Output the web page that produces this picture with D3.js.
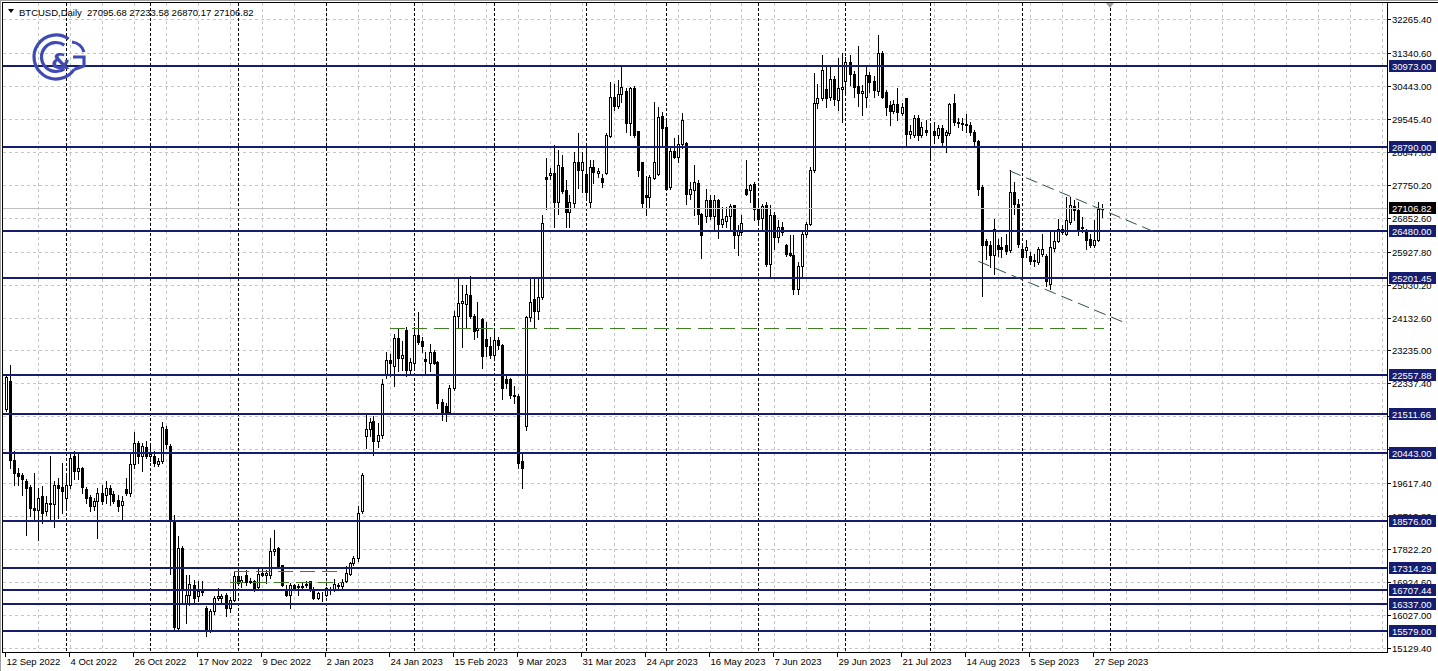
<!DOCTYPE html>
<html><head><meta charset="utf-8">
<script src="https://cdn.jsdelivr.net/npm/d3@7"></script>
<style>html,body{margin:0;padding:0;background:#fff}svg{display:block}</style>
</head><body>
<svg id="chart" width="1438" height="671"></svg>
<script>
// ---- data (weekday daily bars, index 0 = 12 Sep 2022) ----
const openP=[
21643,22402,20250,19903,19839,19675,19510,18942,18897,19263,
18869,19052,19052,19565,19510,19217,19583,20361,19949,20041,
19473,19235,18988,19125,19354,19308,19491,19327,19171,19015,
19473,19354,20151,20727,20361,20608,20361,20361,20132,20224,
21093,20636,18620,15670,17852,16352,16580,16852,16534,16716,
16215,15625,16124,16488,16500,16579,16215,16443,17079,16916,
17107,16925,16943,16779,17170,17107,17125,17761,17852,17379,
16716,16579,16852,16790,16800,16840,16943,16716,16488,16610,
16579,16700,16716,16850,16830,16961,17143,17443,17579,18852,
20899,21109,21310,20763,20927,22587,22970,22815,23572,23043,
23791,22696,22906,23663,23500,23000,22906,23207,22924,21840,
21720,21556,22222,24183,24530,24503,24758,24183,23800,24092,
23545,23362,23116,23517,23390,22468,22450,22021,21994,20234,
21173,24138,24640,24320,24685,27969,28015,28060,27285,28224,
27604,27011,27257,28361,28151,28042,27285,28224,28073,27946,
28082,29085,30134,29906,30216,30307,29423,30380,29213,28356,
27480,27417,27937,28055,29623,29332,27690,28666,28511,28848,
28876,27500,27600,27800,26961,26897,27325,26897,27325,26687,
26760,26897,27189,26387,26460,27645,27600,27782,27080,26842,
27207,25593,26915,26323,26596,26095,25900,25840,24909,25548,
26414,26687,28146,29970,30125,30362,30153,30636,30061,30362,
30563,31092,30764,30453,30244,30153,30745,30563,30317,31338,
30270,29925,29760,29943,29697,30125,29122,29104,29560,29104,
29241,29195,29222,29104,29286,29104,29149,29970,29469,29423,
29405,29377,29195,28940,27691,26230,26095,25840,26095,26049,
26095,25977,27554,27235,26004,25977,25822,25700,25640,25867,
25822,25046,26040,26214,26551,26414,26733,27170,27052,26560,
26505,26277,26120,26232,27095.68];
const highP=[
22604,22833,20498,20041,19903,19720,19583,19903,19491,19537,
19263,20361,19675,19766,20178,19858,20453,20498,20453,20060,
19510,19308,19217,19491,19583,19675,19583,19400,19308,19263,
19766,20453,21020,20773,20727,20773,20727,20498,20315,21277,
21185,20700,18750,18170,17898,17125,17125,16988,16943,16943,
16261,16200,16550,16761,16600,16620,16530,17216,17300,17100,
17261,17050,16990,17307,17300,17250,18125,18352,17870,17398,
16852,16897,16880,16870,16900,16950,16950,16780,16660,16650,
16800,16780,17000,16900,17000,17350,17480,17640,19000,19898,
21492,21400,21447,21250,22450,23180,23137,23681,23818,23500,
23864,23043,23864,24275,23591,23180,23408,23250,22950,21900,
21800,22295,24320,25232,25032,25032,25251,24229,24548,24119,
23999,23590,23818,23590,23408,22541,22496,22268,22040,20443,
24183,25187,25187,25232,26920,28471,28200,28836,28699,28562,
27878,27467,28635,29155,28653,28744,28425,28425,28200,28055,
29150,30544,30490,30608,31018,30380,30426,30450,29213,28374,
28000,28010,30016,29879,29742,29560,28740,29012,29104,29696,
28903,27827,28283,27873,26988,27645,27463,27463,27372,27144,
27144,27235,27208,26642,26915,28420,27782,27827,27372,27235,
27280,27189,27007,26779,26733,26140,26368,26368,25640,26460,
26733,28237,30790,30490,31292,30973,30973,30700,31201,31338,
31220,31292,30836,31520,30472,31001,30818,30700,31839,31384,
30335,30035,30061,30380,29970,30125,29377,29651,29651,29469,
29514,29377,29469,29377,29377,29241,29970,30216,29560,29560,
29670,29469,29241,28967,27736,26277,26230,26825,26277,26323,
26414,28146,27827,27371,26095,26232,25913,25867,26049,26414,
25867,26460,26505,26824,26642,27417,27417,27326,27280,26870,
26551,26414,26779,27280,27233.58];
const lowP=[
21597,20041,19583,19583,19308,18210,18713,18576,18073,18530,
18759,18576,18439,18668,18805,18960,19491,19720,19720,19354,
19080,18851,18897,18118,19052,19080,19034,19080,18851,18594,
19308,19263,20041,20178,19949,20315,20224,20087,20087,20178,
20590,17150,15579,15579,16352,15806,16306,16352,16400,16579,
15443,15560,16050,16440,16350,16000,16110,16420,16850,16800,
16850,16900,16680,16760,17080,16900,17040,17670,17307,16806,
16534,16215,16700,16570,16770,16780,16670,16460,16460,16400,
16540,16600,16690,16770,16740,16930,17120,17400,17500,18800,
20580,20900,20398,20600,20850,22496,22541,22268,22680,22700,
22541,22600,22724,23408,23180,22600,22680,22860,21676,21351,
21320,21492,22160,23864,23320,23864,24119,23545,23590,22769,
23089,23043,23043,23271,21903,22222,21948,21812,20033,19485,
21082,24046,23864,24092,24640,27102,27900,26601,26966,27513,
26601,26601,27130,27650,27558,27376,27148,27787,27950,27690,
28055,29050,29788,29830,30015,29195,29104,29050,27991,27143,
26915,27143,27918,28028,28830,27600,27645,28465,28374,28740,
27234,27372,26915,26687,25748,26733,26824,26505,26295,26596,
26596,26505,26022,25840,26368,27462,27280,26778,26642,26505,
25548,25274,26003,26186,26368,25822,25822,24773,24773,25274,
26323,26642,28100,29833,30050,29879,30061,29925,29788,29469,
30290,30472,30153,29907,29651,29879,30290,30153,30198,30107,
29651,29377,29697,29514,29651,28830,29013,29058,28967,29058,
29104,28511,28876,29013,28830,28648,29104,29377,29330,29250,
29195,29104,28785,27463,24728,25730,25502,25320,25822,25776,
25867,25913,26961,26049,25229,25776,25594,25548,25594,25822,
25001,24910,25958,26186,26400,26368,26687,26779,26368,26460,
26004,26049,26049,26214,26870.17];
const closeP=[
22512,20250,19903,19812,19720,19491,18942,18897,19217,18805,
19080,19080,19565,19491,19400,19583,20315,19949,20022,19510,
19217,18988,19144,19354,19125,19491,19327,19144,18988,19144,
19354,20151,20727,20361,20636,20361,20425,20178,20224,21139,
20682,18620,15715,17852,16761,16580,16879,16488,16670,16643,
15625,16124,16488,16534,16552,16215,16443,17079,16897,16988,
16925,16961,16716,17143,17125,17170,17761,17825,17352,16852,
16579,16852,16761,16830,16825,16860,16761,16488,16625,16590,
16761,16716,16879,16830,16925,17170,17443,17579,18807,19852,
21109,21283,20763,20927,22313,22970,22888,23572,23043,23100,
22696,22924,23663,23454,23362,22950,23180,22906,21812,21511,
21556,22222,24183,24521,24594,24776,24165,23773,23846,23089,
23344,23116,23517,23390,22204,22359,22021,21994,20170,20033,
24138,24548,24320,24685,26710,27896,28060,27285,28288,27586,
27011,27285,28361,28151,28361,27558,28224,28106,28118,27827,
29104,30134,29906,30216,30408,29423,30380,29104,28146,27262,
27417,27964,28374,29605,29304,27645,28666,28511,28848,29514,
27508,27645,27827,26961,26387,27325,26897,27325,26687,26824,
26897,27170,26368,26478,26714,27508,27736,27080,26824,27170,
25593,26915,26323,26596,26460,25867,25840,24909,25548,26395,
26687,28146,29970,30125,30882,30125,30636,30089,30380,30426,
31092,30764,30426,30244,30310,30745,30545,30335,31338,30153,
29879,29760,29943,29724,29879,29122,29213,29560,29104,29313,
29177,29180,29104,29286,28922,29195,29943,29469,29423,29400,
29377,29195,28940,27645,26095,26095,25840,26551,26010,26004,
25958,27554,27217,26140,25776,26067,25685,25680,26004,26004,
25138,26049,26214,26551,26470,26779,27189,27052,26551,26600,
26250,26095,26232,27098,27106.82];

const priceTicks=[32265.40,31340.60,30443.00,29545.40,28647.80,27750.20,26852.60,25927.80,25030.20,24132.60,
  23235.00,22337.40,21439.80,20542.20,19617.40,18719.80,17822.20,16924.60,16027.00,15129.40];
const levelLines=[30973.00,28790.00,26480.00,25201.45,22557.88,21511.66,20443.00,18576.00,17314.29,16707.44,16337.00,15579.00];
const dateTickBars=[0,16,32,48,64,80,96,112,128,144,160,176,192,208,224,240,256,272];
const dateTickLabels=["12 Sep 2022","4 Oct 2022","26 Oct 2022","17 Nov 2022","9 Dec 2022","2 Jan 2023","24 Jan 2023",
  "15 Feb 2023","9 Mar 2023","31 Mar 2023","24 Apr 2023","16 May 2023","7 Jun 2023","29 Jun 2023","21 Jul 2023",
  "14 Aug 2023","5 Sep 2023","27 Sep 2023"];
const monthSeparatorBars=[15,36,58,80,102,122,145,165,188,210,231,254,276];
const lastPrice=27106.82;
const headerText="BTCUSD,Daily  27095.68 27233.58 26870.17 27106.82";
// drawn objects: [bar1, price1, bar2, price2]
const greenLines=[[57,17234,84,17234],[56,16925,84,16925],[96,23845,274.5,23845]];
const channelLines=[[251,28130,287.9,26436],[243.2,25666,279.9,23988]];

// ---- layout ----
const svg=d3.select("#chart");
const plotL=3,plotR=1387,plotT=3,plotB=652;
const x=d3.scaleLinear().domain([0,300]).range([5.5,1205.5]);
const y=d3.scaleLinear().domain([15129.4,32265.4]).range([648,19]);
const FONT="'Liberation Sans', Arial, sans-serif";
const NAVY="#161c6e";

svg.append("rect").attr("width",1438).attr("height",671).attr("fill","#fff");

const clip=svg.append("defs").append("clipPath").attr("id","plot");
clip.append("rect").attr("x",plotL).attr("y",plotT).attr("width",plotR-plotL).attr("height",plotB-plotT);
const plot=svg.append("g").attr("clip-path","url(#plot)").attr("shape-rendering","crispEdges");

// grid
const py=p=>Math.round(y(p))+0.5;
plot.selectAll(".hg").data(priceTicks).join("line")
  .attr("x1",plotL).attr("x2",plotR).attr("y1",py).attr("y2",py)
  .attr("stroke","#c6c6c6").attr("stroke-dasharray","3,3");
const gridBars=d3.range(8,346,8);
plot.selectAll(".vg").data(gridBars).join("line")
  .attr("x1",d=>Math.round(x(d))+0.5).attr("x2",d=>Math.round(x(d))+0.5)
  .attr("y1",plotT).attr("y2",plotB)
  .attr("stroke","#c6c6c6").attr("stroke-dasharray","3,3");
// month separators
plot.selectAll(".ms").data(monthSeparatorBars).join("line")
  .attr("x1",d=>Math.round(x(d))+0.5).attr("x2",d=>Math.round(x(d))+0.5)
  .attr("y1",plotT).attr("y2",plotB)
  .attr("stroke","#000").attr("stroke-dasharray","3,2");

// logo
const LOGO="#3e4bb3";
const logo=svg.append("g").attr("fill","none").attr("stroke",LOGO).attr("stroke-width",3.2);
(function(){
  const cx=56,cy=57;
  function arc(r,a0,a1){const p0=[cx+r*Math.cos(a0*Math.PI/180),cy+r*Math.sin(a0*Math.PI/180)];
    const p1=[cx+r*Math.cos(a1*Math.PI/180),cy+r*Math.sin(a1*Math.PI/180)];
    return `M${p0[0]},${p0[1]} A${r},${r} 0 1 0 ${p1[0]},${p1[1]}`;}
  logo.append("path").attr("d",arc(22,-55,35));
  logo.append("path").attr("d",arc(14.5,-55,55));
  logo.append("path").attr("d","M"+(cx+22*Math.cos(35*Math.PI/180))+","+(cy+22*Math.sin(35*Math.PI/180))
    +" L84,66 L84,57 L73,57");
  logo.append("path").attr("d","M72,42 A14,14 0 0 1 84,52");
  svg.append("text").attr("x",51).attr("y",69).attr("font-family","'DejaVu Sans',sans-serif")
    .attr("font-weight","bold").attr("font-size",22).attr("fill",LOGO).text("&");
})();

// candles
const bars=d3.range(openP.length);
const cg=plot.append("g");
cg.selectAll(".wick").data(bars).join("line")
  .attr("x1",i=>Math.round(x(i))+0.5).attr("x2",i=>Math.round(x(i))+0.5)
  .attr("y1",i=>Math.round(y(highP[i]))).attr("y2",i=>Math.round(y(lowP[i]))+1)
  .attr("stroke","#000");
cg.selectAll(".body").data(bars).join("rect")
  .attr("x",i=>Math.round(x(i))-0.5)
  .attr("y",i=>Math.round(y(Math.max(openP[i],closeP[i])))+0.5)
  .attr("width",2)
  .attr("height",i=>Math.max(0,Math.round(y(Math.min(openP[i],closeP[i])))-Math.round(y(Math.max(openP[i],closeP[i])))))
  .attr("fill",i=>closeP[i]>=openP[i]?"#fff":"#000").attr("stroke","#000");

// current price line
plot.append("line").attr("x1",plotL).attr("x2",plotR).attr("y1",py(lastPrice)).attr("y2",py(lastPrice))
  .attr("stroke","#c0c0c0");

// horizontal level lines
plot.selectAll(".lvl").data(levelLines).join("line")
  .attr("x1",plotL).attr("x2",plotR).attr("y1",d=>Math.round(y(d))).attr("y2",d=>Math.round(y(d)))
  .attr("stroke",NAVY).attr("stroke-width",2);

// green dashed lines
plot.selectAll(".gl").data(greenLines).join("line")
  .attr("x1",d=>x(d[0])).attr("x2",d=>x(d[2])).attr("y1",d=>py(d[1])).attr("y2",d=>py(d[3]))
  .attr("stroke","#3f7f25").attr("stroke-dasharray","15,7");
// channel
plot.selectAll(".ch").data(channelLines).join("line")
  .attr("x1",d=>x(d[0])).attr("x2",d=>x(d[2])).attr("y1",d=>y(d[1])).attr("y2",d=>y(d[3]))
  .attr("stroke","#2f4f4f").attr("stroke-dasharray","12,6").attr("shape-rendering","auto");

// frame
const fr=svg.append("g").attr("shape-rendering","crispEdges");
fr.append("line").attr("x1",0.5).attr("x2",0.5).attr("y1",0).attr("y2",671).attr("stroke","#a0a0a0");
fr.append("line").attr("x1",2.5).attr("x2",2.5).attr("y1",2).attr("y2",plotB+0.5).attr("stroke","#000");
fr.append("line").attr("x1",0).attr("x2",1438).attr("y1",0.5).attr("y2",0.5).attr("stroke","#a0a0a0");
fr.append("line").attr("x1",2).attr("x2",1438).attr("y1",2.5).attr("y2",2.5).attr("stroke","#000");
fr.append("line").attr("x1",plotR+0.5).attr("x2",plotR+0.5).attr("y1",2).attr("y2",plotB+0.5).attr("stroke","#000");
fr.append("line").attr("x1",2).attr("x2",plotR+1).attr("y1",plotB+0.5).attr("y2",plotB+0.5).attr("stroke","#000");

// shift marker
svg.append("path").attr("d","M1106,3 L1114,3 L1110,8 Z").attr("fill","#a0a0a0");

// header
svg.append("path").attr("d","M8,9 L14,9 L11,13 Z").attr("fill","#000");
svg.append("text").attr("x",19).attr("y",16).attr("font-family",FONT).attr("font-size",9.5)
  .attr("fill","#000").attr("xml:space","preserve").style("white-space","pre").text(headerText);

// price axis
const ax=svg.append("g").attr("font-family",FONT).attr("font-size",9.5);
ax.selectAll(".pt").data(priceTicks).join("line").attr("shape-rendering","crispEdges")
  .attr("x1",plotR+1).attr("x2",plotR+4).attr("y1",py).attr("y2",py).attr("stroke","#000");
// labels fully covered by a level box are not visible in the reference
const covered=d=>levelLines.concat([lastPrice]).some(l=>Math.abs(Math.round(y(l))-Math.round(y(d)))<5);
ax.selectAll(".pl").data(priceTicks.filter(d=>!covered(d))).join("text")
  .attr("x",1392).attr("y",d=>Math.round(y(d))+3.5).attr("fill","#000").text(d=>d.toFixed(2));
const lv=ax.selectAll(".lb").data(levelLines).join("g");
lv.append("rect").attr("x",1389).attr("y",d=>Math.round(y(d))-6).attr("width",47).attr("height",12).attr("fill",NAVY);
lv.append("text").attr("x",1392).attr("y",d=>Math.round(y(d))+3.5).attr("fill","#fff").text(d=>d.toFixed(2));
ax.append("rect").attr("x",1389).attr("y",Math.round(y(lastPrice))-6).attr("width",47).attr("height",12).attr("fill","#000");
ax.append("text").attr("x",1392).attr("y",Math.round(y(lastPrice))+3.5).attr("fill","#fff").text(lastPrice.toFixed(2));

// time axis
const tx=svg.append("g").attr("font-family",FONT).attr("font-size",9.5);
tx.selectAll(".tt").data(dateTickBars).join("line").attr("shape-rendering","crispEdges")
  .attr("x1",i=>Math.round(x(i))-0.5).attr("x2",i=>Math.round(x(i))-0.5).attr("y1",plotB+1).attr("y2",plotB+5).attr("stroke","#000");
tx.selectAll(".tl").data(dateTickBars).join("text")
  .attr("x",i=>Math.round(x(i))+0.5).attr("y",665).attr("fill","#000").text((d,k)=>dateTickLabels[k]);
</script>
</body></html>
